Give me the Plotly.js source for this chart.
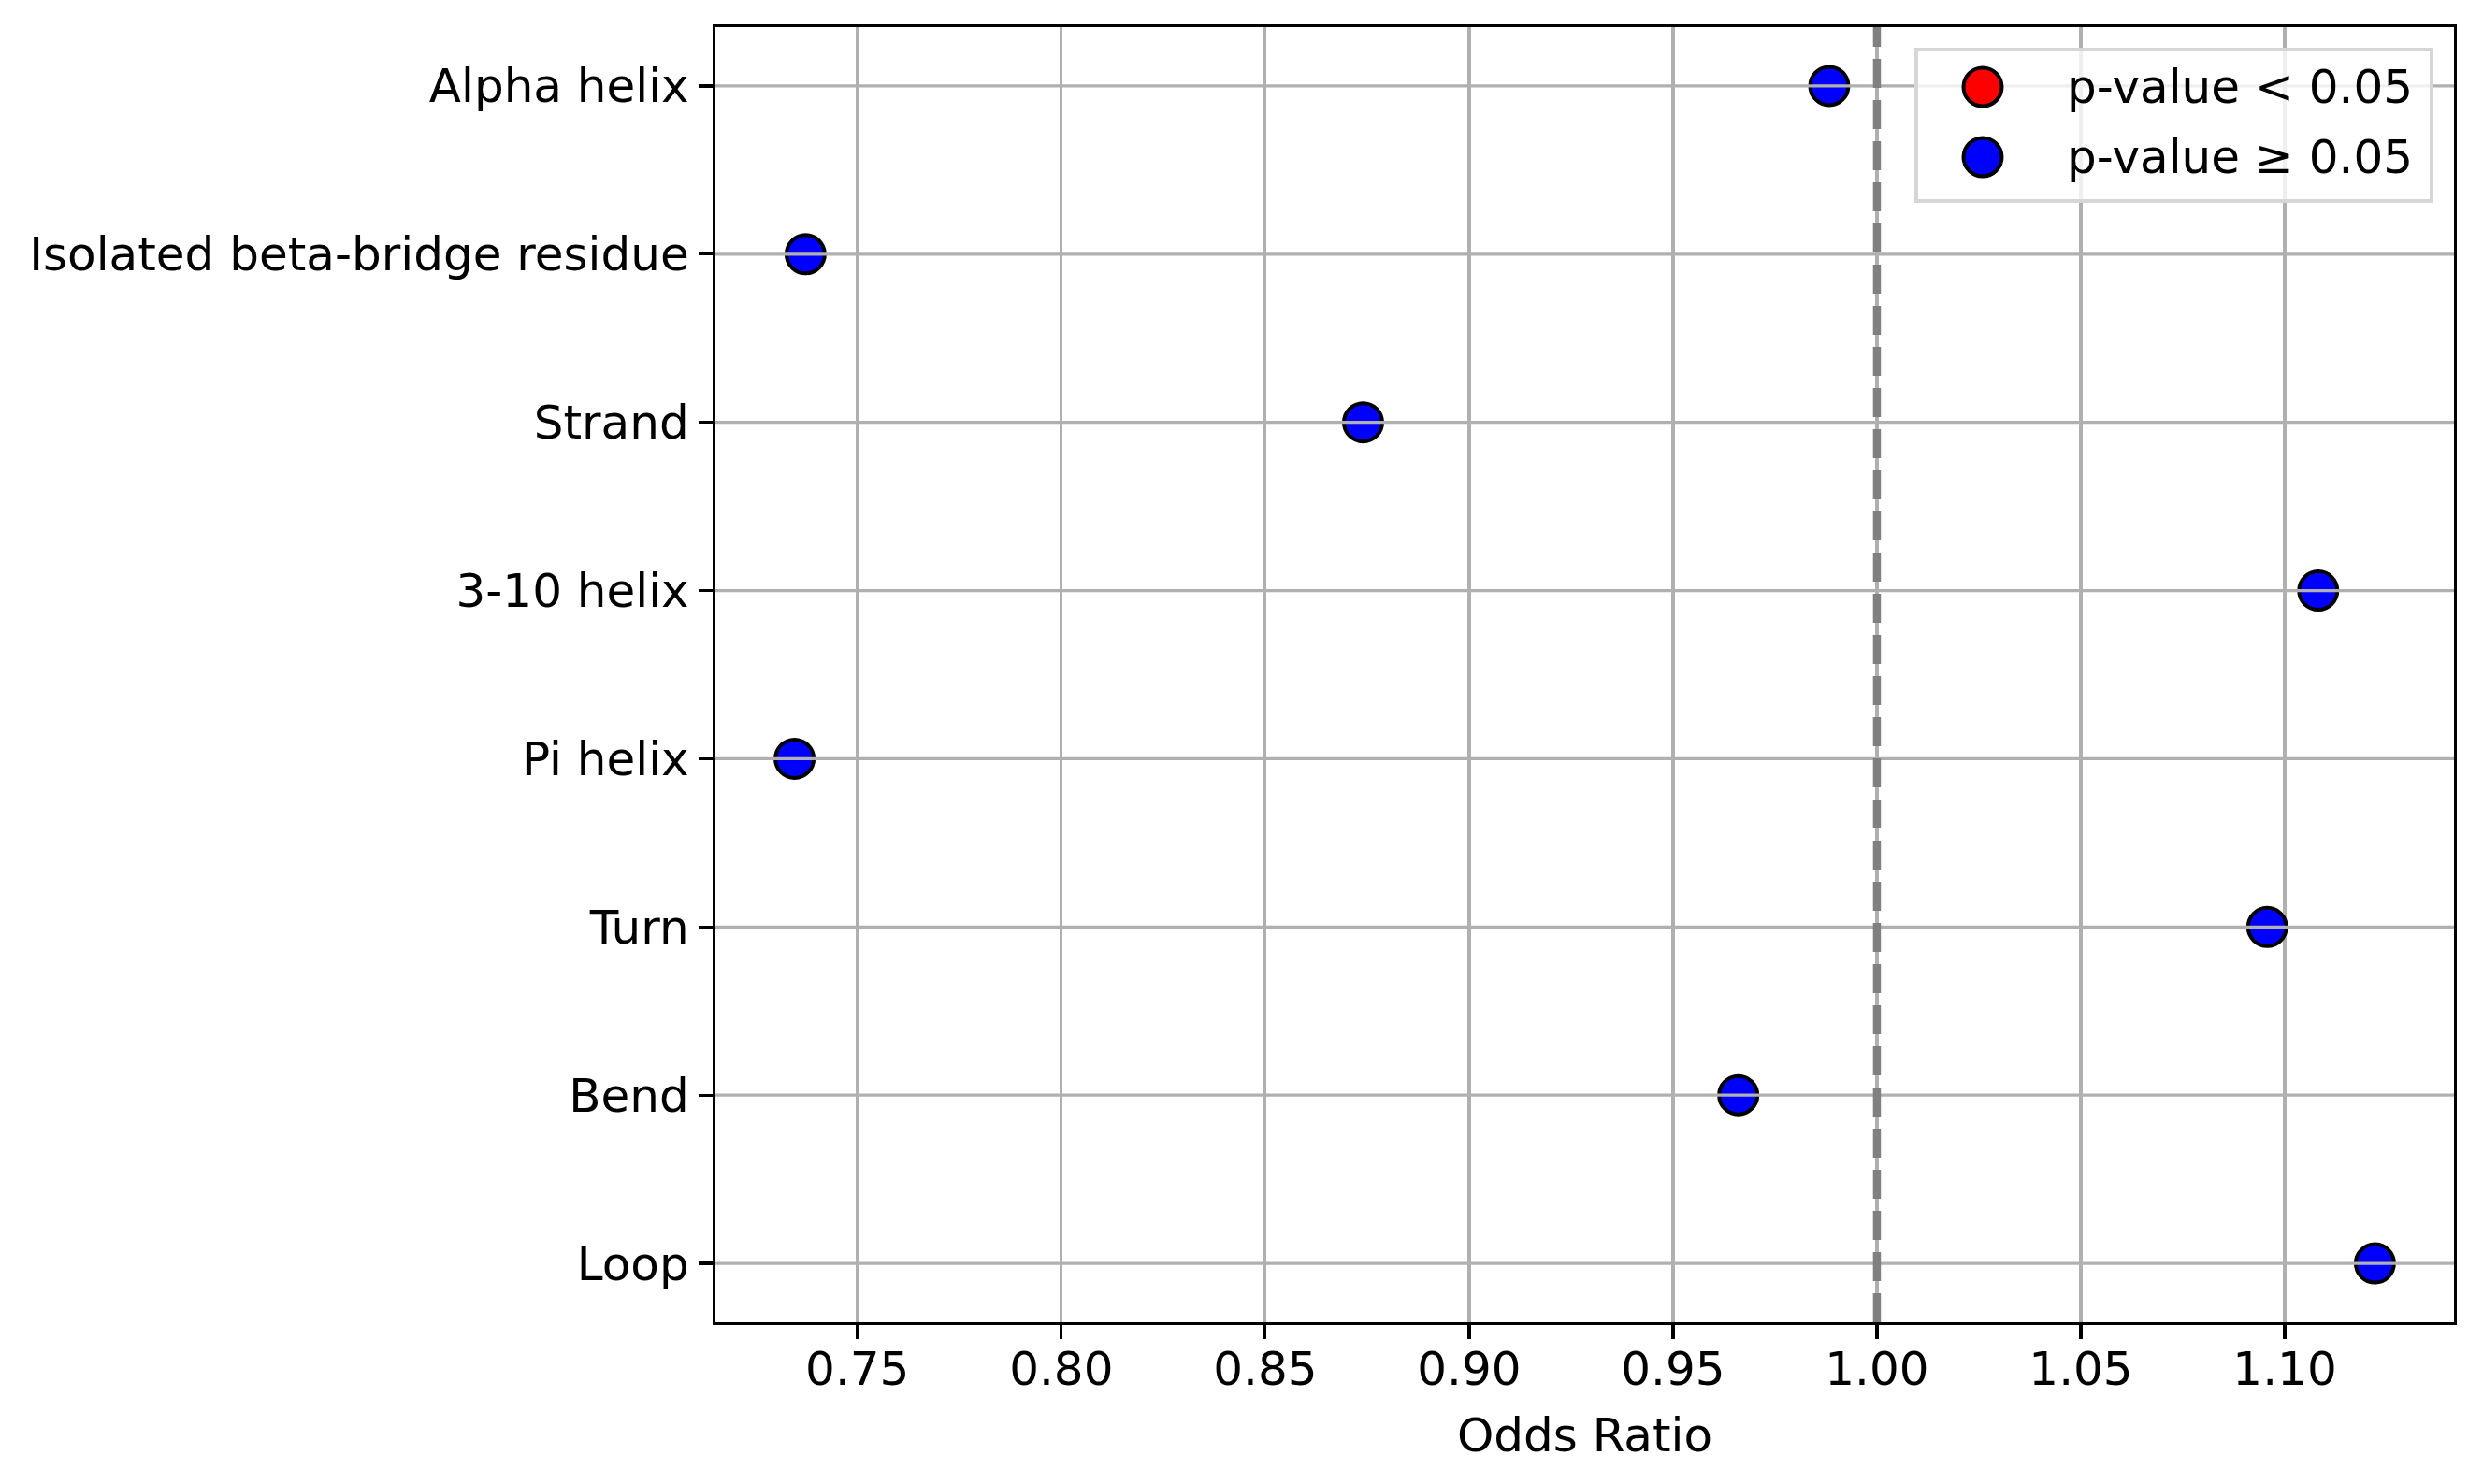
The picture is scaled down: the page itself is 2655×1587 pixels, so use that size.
<!DOCTYPE html>
<html>
<head>
<meta charset="utf-8">
<script src="https://cdn.plot.ly/plotly-3.0.1.min.js"></script>
<style>
  html, body { margin: 0; padding: 0; background: #fff; }
  #main { width: 2655px; height: 1587px; }
</style>
</head>
<body>
<div id="main"></div>
<script>
const categories = ['Alpha helix', 'Isolated beta-bridge residue', 'Strand', '3-10 helix', 'Pi helix', 'Turn', 'Bend', 'Loop']
const oddsRatios = [0.9883, 0.7373, 0.8740, 1.1082, 0.7346, 1.0957, 0.9660, 1.1221]
const significant = [false, false, false, false, false, false, false, false]
const xTicks = [0.75, 0.80, 0.85, 0.90, 0.95, 1.00, 1.05, 1.10]
const legendLabels = ['p-value < 0.05', 'p-value ≥ 0.05']
const legendColors = ['#ff0000', '#0000ff']

const W = 2655, H = 1587
const margin = { l: 765, r: 31, t: 29, b: 173 }
const plotW = W - margin.l - margin.r
const plotH = H - margin.t - margin.b
// pixel -> paper helpers for the hand-made legend
const px = (x) => (x - margin.l) / plotW
const py = (y) => (H - margin.b - y) / plotH

const FONT = 'DejaVu Sans, Liberation Sans, sans-serif'
const FS = 50

const makeTrace = (sig, color) => {
  const data = { x: [], y: [], type: 'scatter', mode: 'markers', showlegend: false,
    marker: { color: color, size: 41, line: { color: '#000', width: 4 } } }
  categories.forEach((c, i) => {
    if (significant[i] === sig) {
      data.x.push(oddsRatios[i])
      data.y.push(c)
    }
  })
  return data
}

const plotData = [makeTrace(true, legendColors[0]), makeTrace(false, legendColors[1])]

const shapes = []
// horizontal grid drawn above markers, like the original
categories.forEach((c) => {
  shapes.push({ type: 'line', xref: 'paper', x0: 0, x1: 1, yref: 'y', y0: c, y1: c,
    line: { color: '#b0b0b0', width: 3.3 }, layer: 'above' })
})
shapes.push({ type: 'line', xref: 'x', x0: 1, x1: 1, yref: 'paper', y0: 0, y1: 1,
  line: { color: '#808080', width: 8.5, dash: '31px,13px' }, layer: 'above' })
// legend box
shapes.push({ type: 'rect', xref: 'paper', yref: 'paper', x0: px(2049), x1: px(2600), y0: py(215), y1: py(53),
  fillcolor: 'rgba(255,255,255,0.8)', line: { color: '#d6d6d6', width: 4 }, layer: 'above' })
const rowsY = [93, 168]
const annotations = []
legendLabels.forEach((lab, i) => {
  shapes.push({ type: 'circle', xref: 'paper', yref: 'paper', xsizemode: 'pixel', ysizemode: 'pixel',
    xanchor: px(2120), yanchor: py(rowsY[i]), x0: -20.5, x1: 20.5, y0: -20.5, y1: 20.5,
    fillcolor: legendColors[i], line: { color: '#000', width: 4 }, layer: 'above' })
  annotations.push({ xref: 'paper', yref: 'paper', x: px(2208), y: py(rowsY[i]), xanchor: 'left', yanchor: 'middle',
    text: lab, showarrow: false, font: { family: FONT, size: FS, color: '#000' } })
})

Plotly.newPlot('main', plotData, {
  width: W, height: H, margin: margin,
  paper_bgcolor: '#fff', plot_bgcolor: '#fff',
  font: { family: FONT, size: FS, color: '#000' },
  xaxis: {
    range: [0.7152, 1.1415], tickvals: xTicks, ticktext: xTicks.map((v) => v.toFixed(2)),
    showgrid: true, gridcolor: '#b0b0b0', gridwidth: 3.3, zeroline: false,
    showline: true, mirror: true, linecolor: '#000', linewidth: 3.3,
    ticks: 'outside', ticklen: 15, tickwidth: 3.3, tickcolor: '#000', ticklabelstandoff: -11,
    title: { text: 'Odds Ratio', font: { family: FONT, size: FS }, standoff: 25 },
  },
  yaxis: {
    type: 'category', categoryorder: 'array', categoryarray: categories,
    range: [7.35, -0.35], showgrid: false, zeroline: false,
    showline: true, mirror: true, linecolor: '#000', linewidth: 3.3,
    ticks: 'outside', ticklen: 15, tickwidth: 3.3, tickcolor: '#000', ticklabelstandoff: 0,
  },
  shapes: shapes,
  annotations: annotations,
}, { displayModeBar: false, staticPlot: true })
</script>
</body>
</html>
